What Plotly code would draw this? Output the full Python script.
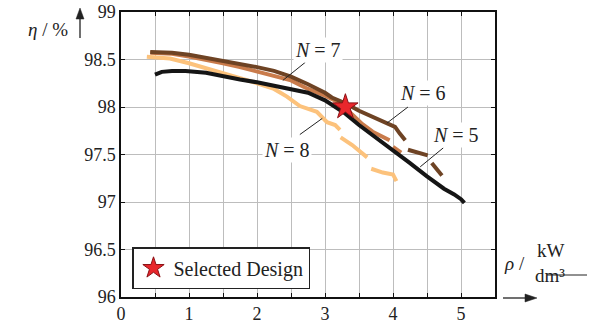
import plotly.graph_objects as go

# ---------------- data ----------------
n5_x = [0.50, 0.60, 0.75, 0.95, 1.25, 1.50, 1.75, 2.00, 2.25, 2.50, 2.75, 3.00, 3.20, 3.30, 3.50, 3.75, 4.00, 4.25, 4.50, 4.75, 4.90, 5.00, 5.05]
n5_y = [98.34, 98.37, 98.38, 98.38, 98.36, 98.32, 98.29, 98.26, 98.22, 98.18, 98.15, 98.07, 97.97, 97.93, 97.81, 97.68, 97.54, 97.41, 97.27, 97.14, 97.08, 97.03, 96.99]

n6_x = [0.43, 0.75, 1.00, 1.25, 1.50, 1.75, 2.00, 2.25, 2.50, 2.75, 3.00, 3.10, 3.30, 3.50, 3.75, 3.90, 4.03, 4.10, 4.18, None, 4.22, 4.51, None, 4.57, 4.72]
n6_y = [98.58, 98.57, 98.55, 98.52, 98.49, 98.46, 98.42, 98.38, 98.32, 98.24, 98.15, 98.10, 98.04, 97.96, 97.88, 97.83, 97.79, 97.72, 97.65, None, 97.55, 97.49, None, 97.41, 97.28]

n7_x = [0.43, 0.75, 1.00, 1.25, 1.50, 1.75, 2.00, 2.25, 2.50, 2.75, 3.00, 3.20, 3.30, 3.40, 3.55, 3.70, 3.95, None, 4.00, 4.12]
n7_y = [98.57, 98.56, 98.53, 98.50, 98.46, 98.42, 98.37, 98.33, 98.28, 98.19, 98.12, 98.05, 97.99, 97.92, 97.82, 97.74, 97.65, None, 97.58, 97.52]

n8_x = [0.38, 0.72, 1.00, 1.25, 1.50, 1.75, 2.00, 2.25, 2.44, 2.63, 2.88, 3.03, 3.15, 3.22, None, 3.23, 3.40, 3.62, None, 3.68, 3.85, 4.00, 4.05]
n8_y = [98.53, 98.51, 98.46, 98.41, 98.36, 98.31, 98.25, 98.19, 98.11, 98.01, 97.95, 97.84, 97.81, 97.76, None, 97.68, 97.60, 97.47, None, 97.35, 97.31, 97.29, 97.22]

sel_x = [3.3]
sel_y = [98.0]

x_ticks = [0, 0.5, 1, 1.5, 2, 2.5, 3, 3.5, 4, 4.5, 5, 5.5]
x_ticktext = ["0", "", "1", "", "2", "", "3", "", "4", "", "5", ""]
y_ticks = [96, 96.5, 97, 97.5, 98, 98.5, 99]
y_ticktext = ["96", "96.5", "97", "97.5", "98", "98.5", "99"]

# label positions (text x, y, leader from, leader to)
labels = [
    ("<i>N</i> = 7", 2.90, 98.60, 2.38, 98.28, 2.71, 98.47),
    ("<i>N</i> = 6", 4.44, 98.15, 3.91, 97.83, 4.22, 98.00),
    ("<i>N</i> = 5", 4.93, 97.71, 4.40, 97.37, 4.74, 97.57),
    ("<i>N</i> = 8", 2.44, 97.55, 2.63, 97.71, 2.96, 97.88),
]

FONT = "Liberation Serif, Times New Roman, DejaVu Serif, serif"
TXT = "#222"
W, H = 601, 330
L, R, T, B = 121, 495, 12, 297


def px(p):
    return (p - L) / (R - L)


def py(p):
    return (B - p) / (B - T)


fig = go.Figure()
series = [
    (n8_x, n8_y, "#fcc27c", "N=8"),
    (n7_x, n7_y, "#c97b4b", "N=7"),
    (n6_x, n6_y, "#6e4324", "N=6"),
    (n5_x, n5_y, "#151515", "N=5"),
]
for xs, ys, col, name in series:
    fig.add_trace(go.Scatter(x=xs, y=ys, mode="lines", line=dict(color=col, width=4),
                             connectgaps=False, showlegend=False, name=name))

fig.add_trace(go.Scatter(x=sel_x, y=sel_y, mode="markers", name="Selected Design",
                         marker=dict(symbol="star", size=19, color="#e8272c",
                                     line=dict(color="#8a1014", width=1)),
                         showlegend=True))

for txt, tx, ty, x0, y0, x1, y1 in labels:
    fig.add_shape(type="line", x0=x0, y0=y0, x1=x1, y1=y1, xref="x", yref="y",
                  line=dict(color=TXT, width=1))
    fig.add_annotation(x=tx, y=ty, text=txt, showarrow=False, bgcolor="white",
                       font=dict(family=FONT, size=20, color=TXT), borderpad=1)

# axis titles
fig.add_annotation(x=px(70), y=py(17), xref="paper", yref="paper", text="<i>η</i> / %",
                   xanchor="right", showarrow=False, font=dict(family=FONT, size=19, color=TXT))
fig.add_annotation(x=px(527), y=py(276), xref="paper", yref="paper", text="<i>ρ</i> /",
                   showarrow=False, font=dict(family=FONT, size=19, color=TXT))
fig.add_annotation(x=px(567), y=py(263), xref="paper", yref="paper", text="kW",
                   showarrow=False, font=dict(family=FONT, size=19, color=TXT))
fig.add_annotation(x=px(567), y=py(288), xref="paper", yref="paper", text="dm³",
                   showarrow=False, font=dict(family=FONT, size=19, color=TXT))
fig.add_shape(type="line", xref="paper", yref="paper", x0=px(547), x1=px(587),
              y0=py(275), y1=py(275), line=dict(color=TXT, width=1))

# arrows drawn as shapes
fig.add_shape(type="line", xref="paper", yref="paper", x0=px(80), x1=px(80),
              y0=py(38), y1=py(16), line=dict(color=TXT, width=1.3))
fig.add_shape(type="path", xref="paper", yref="paper",
              path=f"M {px(80)} {py(8)} L {px(76)} {py(19)} L {px(84)} {py(19)} Z",
              fillcolor=TXT, line=dict(color=TXT, width=0.5))
fig.add_shape(type="line", xref="paper", yref="paper", x0=px(503), x1=px(528),
              y0=py(298), y1=py(298), line=dict(color=TXT, width=1.3))
fig.add_shape(type="path", xref="paper", yref="paper",
              path=f"M {px(537)} {py(298)} L {px(525)} {py(294)} L {px(525)} {py(302)} Z",
              fillcolor=TXT, line=dict(color=TXT, width=0.5))

axis_common = dict(showgrid=True, gridcolor="#bdbdbd", gridwidth=1, showline=True,
                   linecolor="#111", linewidth=1.5, mirror="ticks", ticks="inside",
                   ticklen=4, tickcolor="#111", zeroline=False, automargin=False,
                   ticklabeloverflow="allow",
                   tickfont=dict(family=FONT, size=18, color=TXT))

fig.update_layout(
    width=W, height=H,
    font=dict(family=FONT),
    margin=dict(l=L, r=W - R, t=T, b=H - B, autoexpand=False),
    paper_bgcolor="white", plot_bgcolor="white",
    xaxis=dict(range=[0, 5.5], tickvals=x_ticks, ticktext=x_ticktext, **axis_common),
    yaxis=dict(range=[96, 99], tickvals=y_ticks, ticktext=y_ticktext, **axis_common),
    legend=dict(x=px(132), y=py(289), xref="paper", yref="paper", xanchor="left", yanchor="bottom",
                bgcolor="white", bordercolor="#222", borderwidth=1.5,
                font=dict(family=FONT, size=20, color=TXT)),
)

fig.write_html("out.html", config={"displayModeBar": False},
               post_script="document.body.style.margin='0';")
